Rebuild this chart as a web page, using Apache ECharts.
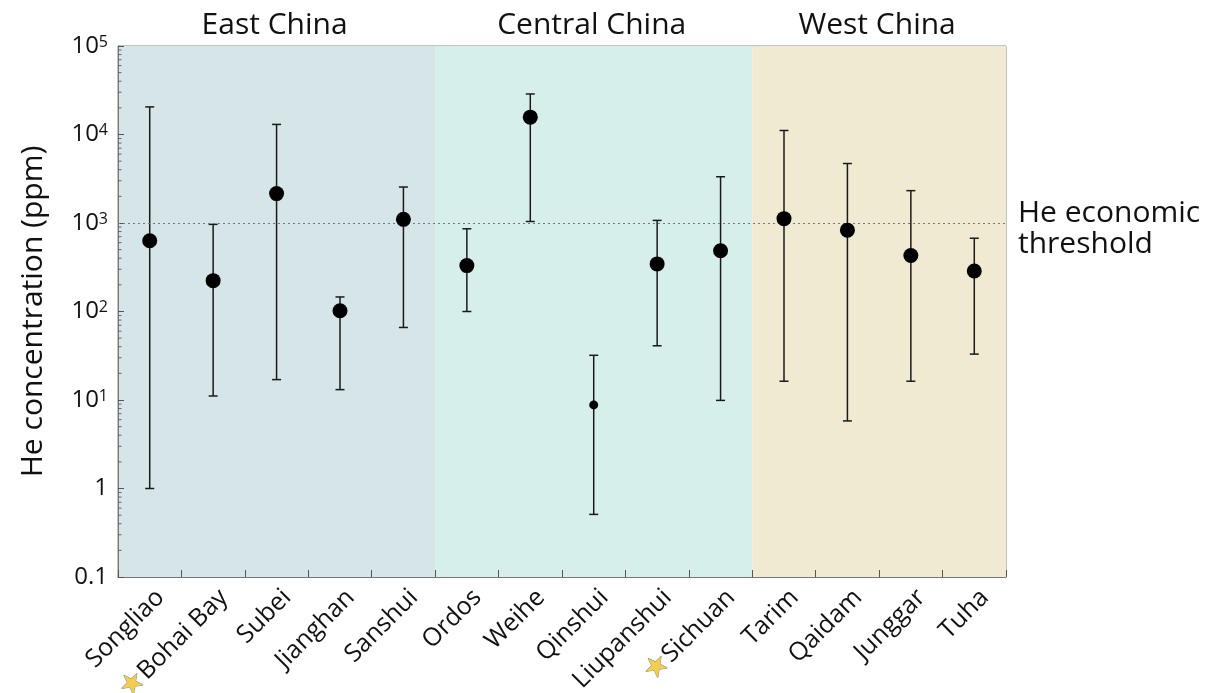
<!DOCTYPE html>
<html><head><meta charset="utf-8">
<script src="https://cdn.jsdelivr.net/npm/echarts@6/dist/echarts.min.js"></script>
<style>html,body{margin:0;padding:0;background:#fff}#c{width:1226px;height:693px}</style>
</head><body><div id="c"></div>
<script>
const basins = ['Songliao','Bohai Bay','Subei','Jianghan','Sanshui','Ordos','Weihe','Qinshui','Liupanshui','Sichuan','Tarim','Qaidam','Junggar','Tuha'];
const heMedian = [630, 223, 2150, 102, 1100, 330, 15700, 8.8, 345, 485, 1120, 830, 430, 287];
const heLow    = [1, 11.1, 17, 13.1, 66, 100, 1040, 0.51, 41, 9.9, 16.3, 5.8, 16.3, 33];
const heHigh   = [20500, 965, 13000, 146, 2550, 860, 28700, 32, 1070, 3330, 11100, 4700, 2320, 673];
const starred = ['Bohai Bay', 'Sichuan'];
const smallDot = ['Qinshui'];
const regionNames = ['East China', 'Central China', 'West China'];
const regionStart = ['Songliao', 'Ordos', 'Tarim'];
const regionEnd = ['Sanshui', 'Sichuan', 'Tuha'];
const regionColors = ['#d6e5e8', '#d7efeb', '#f1ead3'];
const threshold = 1000;
const thresholdLabel = 'He economic\nthreshold';
const yName = 'He concentration (ppm)';
const yMin = 0.1, yMax = 100000;

const FONT = '"Open Sans", "Noto Sans", sans-serif';
const TXT = '#111';

// log minor ticks (2..9 in each decade)
const minorTicks = [];
for (let d = -1; d < 5; d++) for (let m = 2; m <= 9; m++) minorTicks.push([0, m * Math.pow(10, d)]);

const regionData = regionNames.map((n, i) => [basins.indexOf(regionStart[i]), basins.indexOf(regionEnd[i])]);
const errData = basins.map((b, i) => [i, heLow[i], heHigh[i]]);

const chart = echarts.init(document.getElementById('c'), null, {renderer: 'canvas'});
chart.setOption({
  animation: false,
  textStyle: {fontFamily: FONT},
  grid: {left: 118, right: 220, top: 46, bottom: 116, containLabel: false, outerBoundsMode: 'none',
         show: true, borderColor: '#888', borderWidth: 1, backgroundColor: 'transparent'},
  xAxis: {
    type: 'category', data: basins, boundaryGap: true,
    axisLine: {lineStyle: {color: '#777', width: 1}},
    axisTick: {show: true, inside: true, length: 7, interval: 0, lineStyle: {color: '#555'}},
    axisLabel: {
      rotate: 45, interval: 0, fontSize: 25, color: TXT, margin: 6, fontFamily: FONT,
      verticalAlign: 'top', lineHeight: 30, hideOverlap: false,
      formatter: v => starred.includes(v) ? '{star|★}' + v : v,
      rich: {star: {fontSize: 28, color: '#f2cd50', textBorderColor: '#8a8a8a', textBorderWidth: 1, fontFamily: 'DejaVu Sans', lineHeight: 30}}
    },
    splitLine: {show: false}
  },
  yAxis: {
    type: 'log', logBase: 10, min: yMin, max: yMax, splitNumber: 6,
    name: yName, nameLocation: 'middle', nameGap: 70, nameRotate: 90,
    nameTextStyle: {fontSize: 30, color: TXT, fontFamily: FONT},
    axisLine: {show: true, lineStyle: {color: '#777'}},
    axisTick: {show: true, inside: true, length: 6, lineStyle: {color: '#555'}},
    splitLine: {show: false},
    axisLabel: {
      fontSize: 24, color: TXT, margin: 10, fontFamily: FONT,
      formatter: v => {
        const e = Math.round(Math.log10(v));
        if (e === -1) return '0.1';
        if (e === 0) return '1';
        return '{b|10}{s|' + e + '}';
      },
      rich: {
        b: {fontSize: 24, color: TXT, fontFamily: FONT, lineHeight: 24, verticalAlign: 'bottom'},
        s: {fontSize: 16, color: TXT, fontFamily: FONT, lineHeight: 16, verticalAlign: 'top', padding: [0, 0, 12, 0]}
      }
    }
  },
  series: [
    {
      type: 'custom', name: 'regions', data: regionData, z: 0, silent: true, clip: false,
      encode: {x: 0},
      renderItem: (params, api) => {
        const cs = params.coordSys;
        const bw = cs.width / basins.length;
        const x0 = api.coord([api.value(0), 1])[0] - bw / 2;
        const x1 = api.coord([api.value(1), 1])[0] + bw / 2;
        const i = params.dataIndex;
        return {type: 'group', children: [
          {type: 'rect', shape: {x: x0, y: cs.y, width: x1 - x0, height: cs.height}, style: {fill: regionColors[i]}},
          {type: 'text', x: (x0 + x1) / 2 - 2, y: cs.y - 21, style: {text: regionNames[i], fill: TXT, fontSize: 30, fontFamily: FONT, align: 'center', verticalAlign: 'middle'}}
        ]};
      }
    },
    {
      type: 'custom', name: 'minorTicks', data: minorTicks, z: 3, silent: true,
      encode: {y: 1},
      renderItem: (params, api) => {
        const cs = params.coordSys;
        const y = api.coord([0, api.value(1)])[1];
        return {type: 'line', shape: {x1: cs.x, y1: y, x2: cs.x + 3.5, y2: y}, style: {stroke: '#666', lineWidth: 1}};
      }
    },
    {
      type: 'custom', name: 'range', data: errData, z: 4, silent: true,
      encode: {x: 0, y: [1, 2]},
      renderItem: (params, api) => {
        const lo = api.coord([api.value(0), api.value(1)]);
        const hi = api.coord([api.value(0), api.value(2)]);
        const hw = 4.5;
        const st = {stroke: '#1a1a1a', lineWidth: 1.5};
        return {type: 'group', children: [
          {type: 'line', shape: {x1: lo[0], y1: lo[1], x2: hi[0], y2: hi[1]}, style: st},
          {type: 'line', shape: {x1: lo[0] - hw, y1: lo[1], x2: lo[0] + hw, y2: lo[1]}, style: st},
          {type: 'line', shape: {x1: hi[0] - hw, y1: hi[1], x2: hi[0] + hw, y2: hi[1]}, style: st}
        ]};
      }
    },
    {
      type: 'scatter', name: 'median', data: heMedian, z: 5,
      symbol: 'circle',
      symbolSize: (v, p) => smallDot.includes(basins[p.dataIndex]) ? 9 : 15,
      itemStyle: {color: '#000', opacity: 1},
      markLine: {
        silent: true, symbol: 'none',
        data: [{yAxis: threshold}],
        lineStyle: {type: [2, 3], color: '#777', width: 1.2},
        label: {show: true, position: 'end', formatter: thresholdLabel, fontSize: 30, color: TXT, fontFamily: FONT, lineHeight: 31, distance: 12, offset: [0, 6]}
      }
    }
  ]
});
</script></body></html>
